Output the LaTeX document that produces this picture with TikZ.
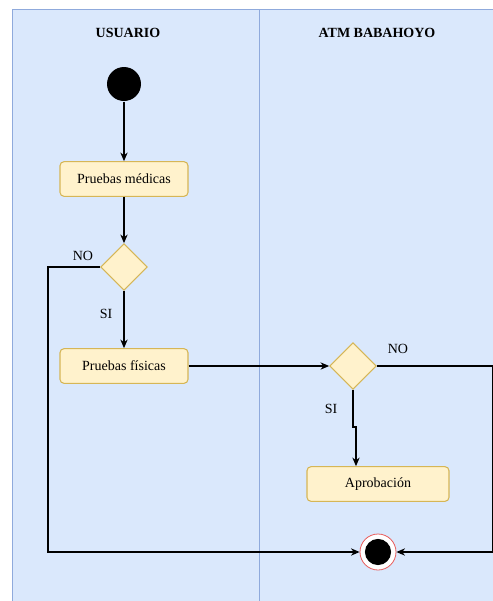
\documentclass[tikz,border=0pt]{standalone}
\usepackage{fontspec}
\setmainfont{Liberation Serif}
\usetikzlibrary{shapes.geometric,arrows.meta}
\definecolor{lanefill}{HTML}{DAE8FC}
\definecolor{laneline}{HTML}{8FAADC}
\definecolor{boxfill}{HTML}{FFF2CC}
\definecolor{boxline}{HTML}{D6B656}
\definecolor{endline}{HTML}{E85C5C}

\begin{document}
\begin{tikzpicture}[x=0.75pt,y=-0.75pt,>={Stealth[length=6.5pt,width=5.5pt]},line width=0.8pt,
    action node/.style={rectangle,rounded corners=3pt,draw=boxline,fill=boxfill,minimum width=96pt,minimum height=26pt,font=\fontsize{10.5}{12}\selectfont},
    decision node/.style={diamond,draw=boxline,fill=boxfill,minimum width=35pt,minimum height=35pt,inner sep=0pt},
    start node/.style={circle,fill=black,minimum size=25.5pt,inner sep=0pt},
    end node/.style={circle,draw=endline,fill=white,line width=0.6pt,minimum size=27pt,inner sep=0pt,
        path picture={\fill[black] (path picture bounding box.center) circle (9.8pt);}},
    lane title/.style={font=\fontsize{10.5}{12}\selectfont\bfseries},
    guard/.style={font=\fontsize{10.5}{12}\selectfont}]
    \useasboundingbox (0,0) rectangle (493,601);

    % swimlanes
    \fill[lanefill] (12,9) rectangle (493,601);
    \draw[laneline,line width=0.75pt] (12,601) -- (12,9) -- (493,9);
    \draw[laneline,line width=0.75pt] (259,9) -- (259,601);
    \node[lane title] (usuario) at (128,33) {USUARIO};
    \node[lane title] (atm) at (377,33) {ATM BABAHOYO};

    % nodes
    \node[start node] (start) at (124,84) {};
    \node[action node] (medicas) at (124,179) {Pruebas médicas};
    \node[decision node] (dec1) at (124,267) {};
    \node[action node] (fisicas) at (124,366) {Pruebas físicas};
    \node[decision node] (dec2) at (353,366) {};
    \node[action node,minimum width=106.5pt] (aprobacion) at (378,484) {Aprobación};
    \node[end node] (end) at (378,552) {};

    \node[guard] (no1) at (83,256) {NO};
    \node[guard] (si1) at (106,314) {SI};
    \node[guard] (no2) at (398,349) {NO};
    \node[guard] (si2) at (331,409) {SI};

    \coordinate (leftbend) at (48,552);
    \coordinate (rightbend) at (493,366);
    \coordinate (jog) at (356,427);

    % flows
    \draw[->] (start) -- (medicas);
    \draw[->] (medicas) -- (dec1);
    \draw[->] (dec1) -- (fisicas);
    \draw[->] (fisicas) -- (dec2);
    \draw[->] (dec2.south) |- (jog) -- (jog |- aprobacion.north);
    \draw[->] (dec1.west) -| (leftbend) -- (end.west);
    \draw[->] (dec2.east) -- (rightbend) |- (end.east);
\end{tikzpicture}
\end{document}
